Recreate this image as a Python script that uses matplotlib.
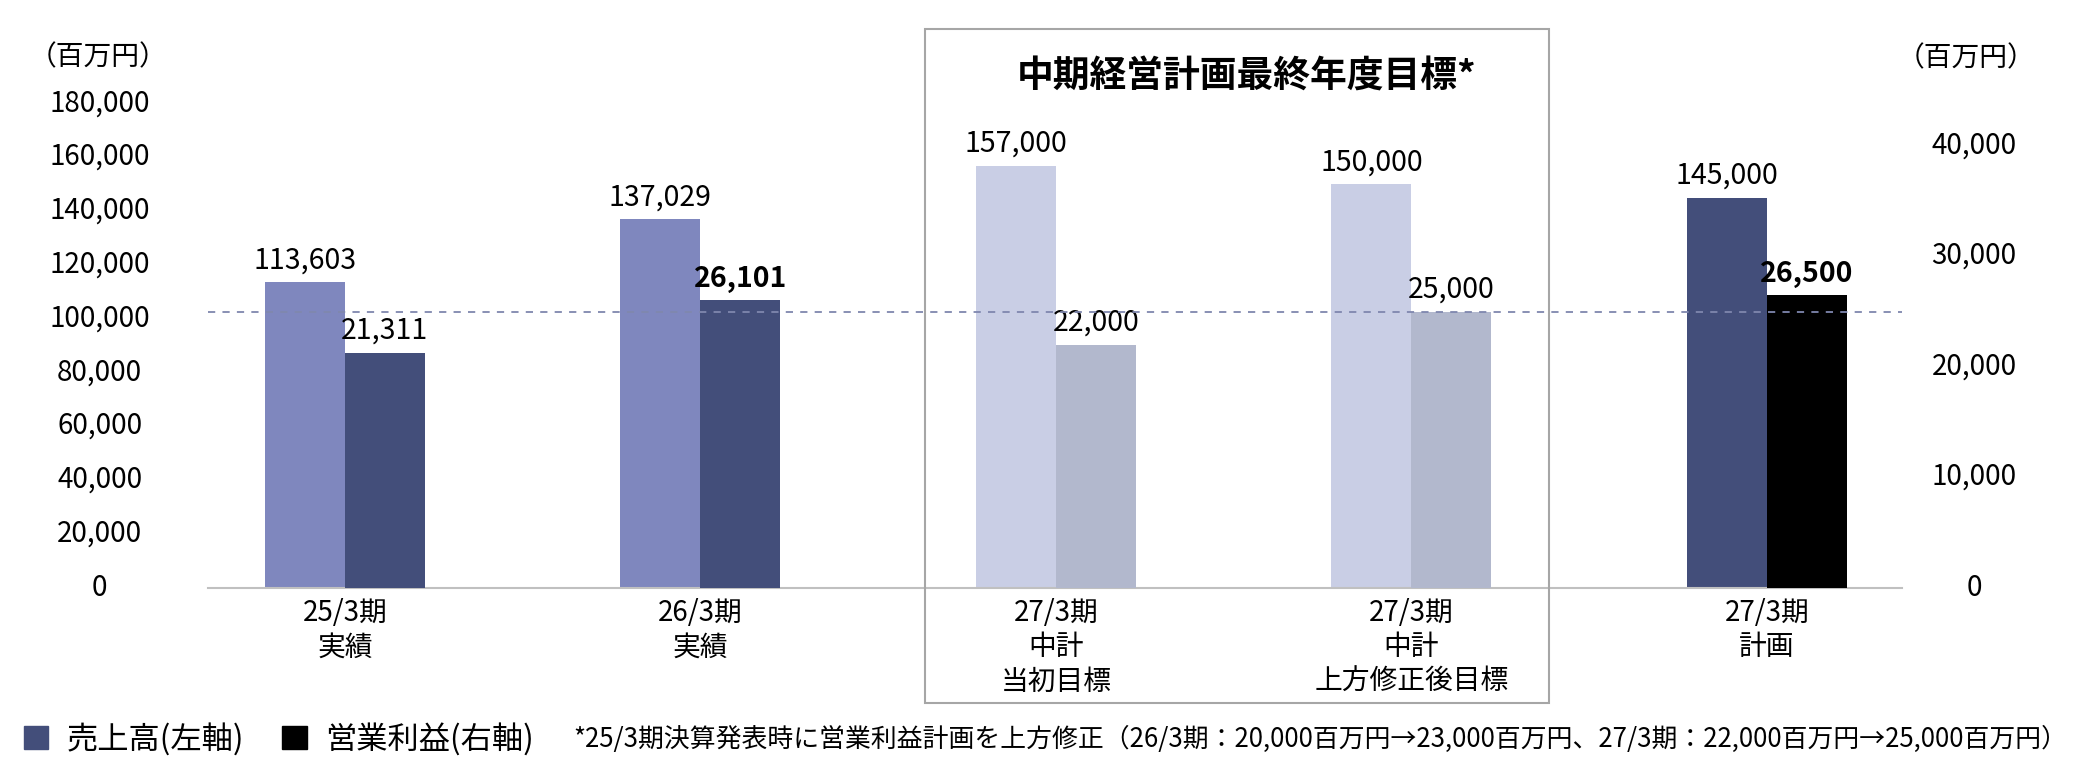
import matplotlib.pyplot as plt
from matplotlib.patches import Patch, Rectangle
from matplotlib.transforms import ScaledTranslation

plt.rcParams['font.family'] = ['Noto Sans CJK JP', 'DejaVu Sans']

# -----------------------------------------
# data
# -----------------------------------------
categories = ['25/3期\n実績', '26/3期\n実績', '27/3期\n中計\n当初目標',
              '27/3期\n中計\n上方修正後目標', '27/3期\n計画']
sales = [113603, 137029, 157000, 150000, 145000]      # 売上高 (left axis)
profit = [21311, 26101, 22000, 25000, 26500]          # 営業利益 (right axis)
profit_bold = [False, True, False, False, True]
left_ticks = [0, 20000, 40000, 60000, 80000, 100000, 120000, 140000, 160000, 180000]
right_ticks = [0, 10000, 20000, 30000, 40000]
revised_target = 25000

sales_colors = ['#7f87be', '#7f87be', '#c9cee5', '#c9cee5', '#434e7a']
profit_colors = ['#434e7a', '#434e7a', '#b2b8cd', '#b2b8cd', '#000000']

title = '中期経営計画最終年度目標*'
note = ('*25/3期決算発表時に営業利益計画を上方修正（26/3期：20,000百万円→23,000百万円、'
        '27/3期：22,000百万円→25,000百万円）')

# -----------------------------------------
# figure
# -----------------------------------------
fig = plt.figure(figsize=(20.8, 7.84), dpi=100)
ax = fig.add_axes([0.1, 0.25, 0.8144, 0.7117])
ax2 = ax.twinx()

x = list(range(len(categories)))
w = 0.225
ax.bar([i - w / 2 for i in x], sales, width=w, color=sales_colors)
ax2.bar([i + w / 2 for i in x], profit, width=w, color=profit_colors)

ax.set_xlim(-0.385, 4.38)
ax.set_ylim(0, 207400)
ax2.set_ylim(0, 50500)

ax2.axhline(revised_target, color='#7f87ae', lw=1.3, dashes=(4, 4), zorder=5)

# value labels
for i in x:
    ax.annotate(f'{sales[i]:,}', (i - w / 2, sales[i]), xytext=(0, 5),
                textcoords='offset points', ha='center', va='bottom', fontsize=20.5)
    ax2.annotate(f'{profit[i]:,}', (i + w / 2, profit[i]), xytext=(0, 5),
                 textcoords='offset points', ha='center', va='bottom', fontsize=20.5,
                 fontweight='bold' if profit_bold[i] else 'normal')

# axes
for a in (ax, ax2):
    for s in a.spines.values():
        s.set_visible(False)
ax.spines['bottom'].set_visible(True)
ax.spines['bottom'].set_color('#c0c0c0')
ax.spines['bottom'].set_linewidth(1.5)

ax.set_xticks(x, categories, fontsize=20, linespacing=1.2)
ax.tick_params(axis='x', length=0, pad=7)

up = ScaledTranslation(0, 4 / 100, fig.dpi_scale_trans)
ax.set_yticks(left_ticks, [f'{v:,}' for v in left_ticks], fontsize=20)
ax.tick_params(axis='y', length=0, pad=78)
ax2.set_yticks(right_ticks, [f'{v:,}' for v in right_ticks], fontsize=20)
ax2.tick_params(axis='y', length=0, pad=52)
for lab in ax.get_yticklabels() + ax2.get_yticklabels():
    lab.set_ha('center')
    lab.set_transform(lab.get_transform() + up)

fig.text(98 / 2080, 1 - 57 / 784, '（百万円）', ha='center', va='center', fontsize=20)
fig.text(1966 / 2080, 1 - 58 / 784, '（百万円）', ha='center', va='center', fontsize=20)

# mid-term plan box
fig.patches.append(Rectangle((925 / 2080, 1 - 703 / 784), 624 / 2080, 674 / 784,
                             transform=fig.transFigure, fill=False,
                             edgecolor='#a6a6a6', lw=1.5))
fig.text(1247 / 2080, 1 - 77 / 784, title, ha='center', va='center',
         fontsize=26.5, fontweight='bold')

# legend + footnote
handles = [Patch(color='#434e7a', label='売上高(左軸)'),
           Patch(color='#000000', label='営業利益(右軸)')]
fig.legend(handles=handles, loc='center left', bbox_to_anchor=(24 / 2080, 1 - 739 / 784),
           ncol=2, frameon=False, fontsize=22.5, handlelength=0.78, handleheight=0.78,
           handletextpad=0.6, columnspacing=1.2, borderpad=0, borderaxespad=0)
fig.text(573 / 2080, 1 - 739 / 784, note, ha='left', va='center', fontsize=18.6)

plt.savefig('out.png')
